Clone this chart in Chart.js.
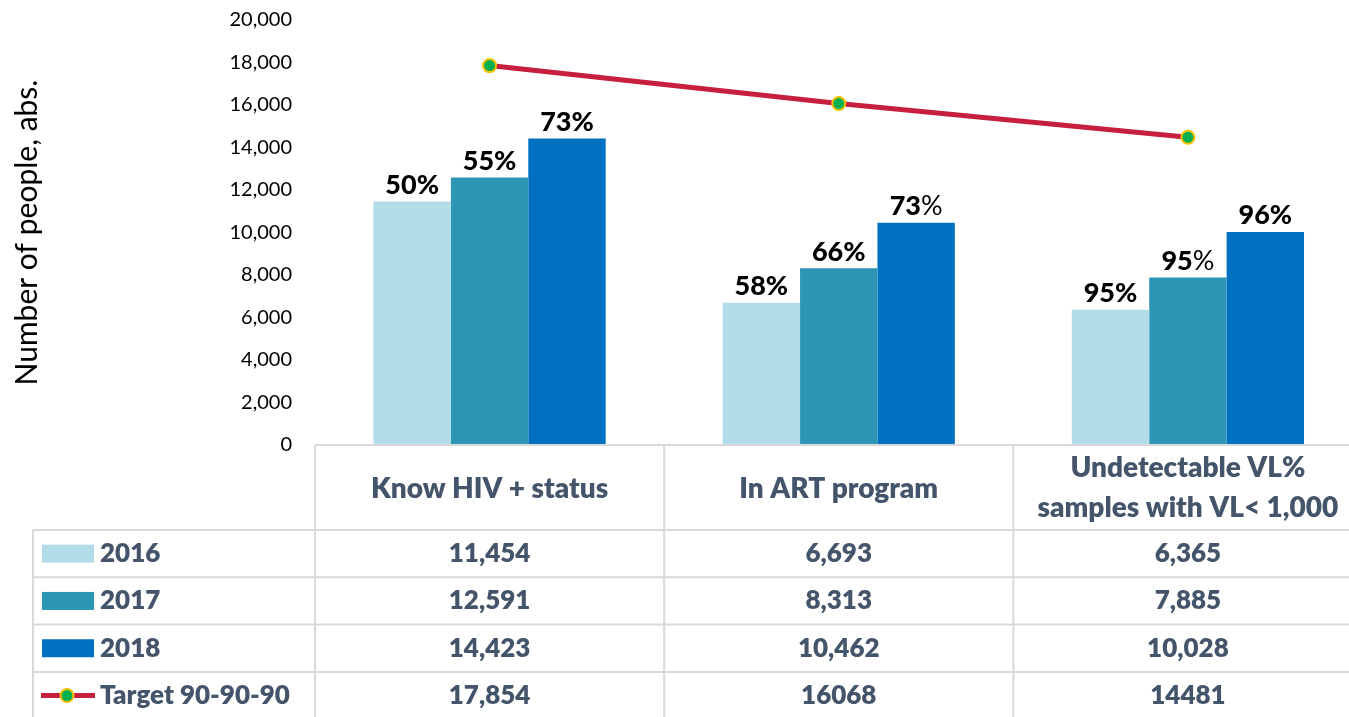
<!DOCTYPE html>
<html>
<head>
<meta charset="utf-8">
<script src="https://cdn.jsdelivr.net/npm/chart.js@4/dist/chart.umd.min.js"></script>
<style>
  html, body { margin: 0; padding: 0; background: #fff; overflow: hidden; }
  #wrap { width: 1349px; height: 717px; overflow: hidden; }
  canvas { display: block; }
</style>
</head>
<body>
<div id="wrap"><canvas id="chart" width="1371" height="717"></canvas></div>
<script>
// dados
const categories = ['Know HIV + status', 'In ART program', ['Undetectable VL%', 'samples with VL< 1,000']];
const years = ['2016', '2017', '2018'];
const values2016 = [11454, 6693, 6365];
const values2017 = [12591, 8313, 7885];
const values2018 = [14423, 10462, 10028];
const target = [17854, 16068, 14481];
const targetText = ['17,854', '16068', '14481'];
const pct2016 = ['50%', '58%', '95%'];
const pct2017 = ['55%', '66%', '95%'];
const pct2018 = ['73%', '73%', '96%'];
const targetLabel = 'Target 90-90-90';
// rótulos em que o sinal % não está em negrito: [série, categoria]
const plainPercent = [[2, 1], [1, 2]];

const barColors = ['#B1DCE8', '#2E96B5', '#0070C0'];
const lineColor = '#C7203F';
const FONT = 'Lato, "Open Sans", sans-serif';
const TXT = '#44546A';

const fmt = v => v.toLocaleString('en-US');

// rótulos de percentagem sobre as barras
const pctPlugin = {
    id: 'pctLabels',
    afterDatasetsDraw(chart) {
        const ctx = chart.ctx;
        const pcts = [pct2016, pct2017, pct2018];
        const boldF = '900 27px ' + FONT, normF = '27px ' + FONT;
        ctx.save();
        ctx.fillStyle = '#000';
        ctx.textBaseline = 'bottom';
        for (let d = 0; d < 3; d++) {
            const meta = chart.getDatasetMeta(d + 1);
            meta.data.forEach((bar, i) => {
                const txt = pcts[d][i];
                const y = bar.y - 3;
                const plain = plainPercent.some(p => p[0] === d && p[1] === i);
                if (!plain) {
                    ctx.font = boldF;
                    ctx.textAlign = 'center';
                    ctx.fillText(txt, bar.x, y);
                } else {
                    const num = txt.slice(0, -1);
                    ctx.font = boldF;
                    const w1 = ctx.measureText(num).width;
                    ctx.font = normF;
                    const w2 = ctx.measureText('%').width;
                    const x0 = bar.x - (w1 + w2) / 2;
                    ctx.textAlign = 'left';
                    ctx.font = boldF;
                    ctx.fillText(num, x0, y);
                    ctx.font = normF;
                    ctx.fillText('%', x0 + w1, y);
                }
            });
        }
        ctx.restore();
    }
};

// tabela de dados sob o gráfico
const tablePlugin = {
    id: 'dataTable',
    afterDraw(chart) {
        const ctx = chart.ctx;
        const x = chart.scales.x;
        const top = chart.chartArea.bottom;
        const colW = (x.right - x.left) / categories.length;
        const headH = 85, rowH = 47.3;
        const leftX = 33;
        const rows = [values2016, values2017, values2018];
        ctx.save();
        ctx.strokeStyle = '#D9D9D9';
        ctx.lineWidth = 2;
        // linhas horizontais
        ctx.beginPath();
        ctx.moveTo(x.left, top); ctx.lineTo(x.right, top);
        for (let r = 0; r < 4; r++) {
            const y = top + headH + r * rowH;
            ctx.moveTo(leftX, y); ctx.lineTo(x.right, y);
        }
        // linhas verticais
        for (let c = 0; c <= categories.length; c++) {
            const cx = x.left + c * colW;
            ctx.moveTo(cx, top); ctx.lineTo(cx, 717);
        }
        ctx.moveTo(leftX, top + headH); ctx.lineTo(leftX, 717);
        ctx.stroke();

        ctx.fillStyle = TXT;
        ctx.font = '800 28px ' + FONT;
        ctx.textAlign = 'center';
        ctx.textBaseline = 'middle';
        categories.forEach((cat, c) => {
            const cx = x.left + (c + 0.5) * colW;
            if (Array.isArray(cat)) {
                ctx.fillText(cat[0], cx, top + 23);
                ctx.fillText(cat[1], cx, top + 63);
            } else {
                ctx.fillText(cat, cx, top + 44);
            }
        });
        ctx.font = '800 26px ' + FONT;
        const texts = [rows[0].map(fmt), rows[1].map(fmt), rows[2].map(fmt), targetText];
        const labels = years.concat([targetLabel]);
        for (let r = 0; r < 4; r++) {
            const cy = top + headH + (r + 0.5) * rowH;
            ctx.textAlign = 'center';
            ctx.fillStyle = TXT;
            texts[r].forEach((t, c) => {
                ctx.fillText(t, x.left + (c + 0.5) * colW, cy);
            });
            // legenda
            if (r < 3) {
                ctx.fillStyle = barColors[r];
                ctx.fillRect(42, cy - 9, 52, 18);
            } else {
                ctx.strokeStyle = lineColor;
                ctx.lineWidth = 5;
                ctx.beginPath();
                ctx.moveTo(41, cy); ctx.lineTo(95, cy);
                ctx.stroke();
                ctx.beginPath();
                ctx.arc(67, cy, 6.5, 0, Math.PI * 2);
                ctx.fillStyle = '#00B050';
                ctx.fill();
                ctx.lineWidth = 2;
                ctx.strokeStyle = '#FFC000';
                ctx.stroke();
            }
            ctx.fillStyle = TXT;
            ctx.textAlign = 'left';
            ctx.fillText(labels[r], 100, cy);
        }
        ctx.restore();
    }
};

const ctx = document.getElementById('chart').getContext('2d');
new Chart(ctx, {
    data: {
        labels: categories,
        datasets: [
            {
                type: 'line',
                label: targetLabel,
                data: target,
                borderColor: lineColor,
                borderWidth: 5,
                pointRadius: 6.5,
                pointBackgroundColor: '#00B050',
                pointBorderColor: '#FFC000',
                pointBorderWidth: 2,
                order: 0
            },
            { type: 'bar', label: years[0], data: values2016, backgroundColor: barColors[0], order: 1 },
            { type: 'bar', label: years[1], data: values2017, backgroundColor: barColors[1], order: 1 },
            { type: 'bar', label: years[2], data: values2018, backgroundColor: barColors[2], order: 1 }
        ]
    },
    options: {
        responsive: false,
        animation: false,
        layout: { padding: { top: 20, bottom: 272, right: 0, left: 0 } },
        datasets: { bar: { barPercentage: 1, categoryPercentage: 0.665 } },
        plugins: { legend: { display: false }, tooltip: { enabled: false } },
        scales: {
            x: { display: false, offset: true },
            y: {
                min: 0, max: 20000,
                ticks: { stepSize: 2000, padding: 3, color: '#000', font: { family: FONT, size: 20 },
                         callback: v => fmt(v) },
                grid: { display: true, drawOnChartArea: false, drawTicks: true, tickLength: 20,
                        color: 'rgba(0,0,0,0)' },
                border: { display: false },
                title: { display: true, text: 'Number of people, abs.', color: '#000',
                         font: { family: FONT, size: 30 }, padding: { top: 9, bottom: 0 } },
                afterFit(scale) { scale.width = 315; }
            }
        }
    },
    plugins: [pctPlugin, tablePlugin]
});
</script>
</body>
</html>
